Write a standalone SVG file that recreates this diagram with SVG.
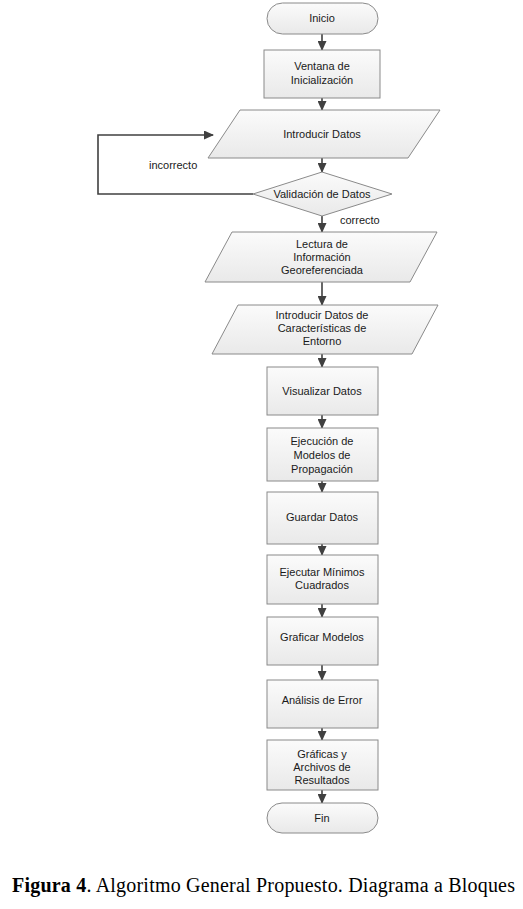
<svg xmlns="http://www.w3.org/2000/svg" width="523" height="909" viewBox="0 0 523 909">
<defs>
<linearGradient id="g" x1="0" y1="0" x2="0" y2="1">
<stop offset="0" stop-color="#fbfbfb"/>
<stop offset="1" stop-color="#e9e9e9"/>
</linearGradient>
<marker id="ah" markerWidth="10" markerHeight="9" refX="9" refY="4.5" orient="auto" markerUnits="userSpaceOnUse">
<path d="M0,0 L10,4.5 L0,9 Z" fill="#404040"/>
</marker>
<style>
.s{fill:url(#g);stroke:#8a8a8a;stroke-width:1}
.t{font-family:"Liberation Sans",Arial,sans-serif;font-size:11px;fill:#1a1a1a;text-anchor:middle}
.l{font-family:"Liberation Sans",Arial,sans-serif;font-size:11px;fill:#1a1a1a}
.c{fill:none;stroke:#404040;stroke-width:1.6}
.cap{font-family:"Liberation Serif","Times New Roman",serif;font-size:20px;fill:#000}
</style>
</defs>
<rect width="523" height="909" fill="#fff"/>
<g id="connectors">
<line class="c" x1="322" y1="34" x2="322" y2="50" marker-end="url(#ah)"/>
<line class="c" x1="322" y1="98" x2="322" y2="110" marker-end="url(#ah)"/>
<line class="c" x1="322" y1="158" x2="322" y2="172" marker-end="url(#ah)"/>
<polyline class="c" points="253,194 98,194 98,135 213,135" marker-end="url(#ah)"/>
<line class="c" x1="322" y1="216" x2="322" y2="232" marker-end="url(#ah)"/>
<line class="c" x1="322" y1="282" x2="322" y2="305" marker-end="url(#ah)"/>
<line class="c" x1="322" y1="354" x2="322" y2="367" marker-end="url(#ah)"/>
<line class="c" x1="322" y1="415" x2="322" y2="428" marker-end="url(#ah)"/>
<line class="c" x1="322" y1="481" x2="322" y2="492" marker-end="url(#ah)"/>
<line class="c" x1="322" y1="544" x2="322" y2="555" marker-end="url(#ah)"/>
<line class="c" x1="322" y1="604" x2="322" y2="617" marker-end="url(#ah)"/>
<line class="c" x1="322" y1="665" x2="322" y2="680" marker-end="url(#ah)"/>
<line class="c" x1="322" y1="728" x2="322" y2="740" marker-end="url(#ah)"/>
<line class="c" x1="322" y1="790" x2="322" y2="803" marker-end="url(#ah)"/>
<text class="l" x="149" y="169">incorrecto</text>
<text class="l" x="340" y="224">correcto</text>
</g>
<g id="inicio">
<rect class="s" x="267" y="3" width="111" height="31" rx="15.5"/>
<text class="t" x="322" y="22">Inicio</text>
</g>
<g id="ventana">
<rect class="s" x="264" y="50" width="116" height="48"/>
<text class="t" x="322" y="70">Ventana de</text>
<text class="t" x="322" y="84">Inicialización</text>
</g>
<g id="introducir">
<polygon class="s" points="240,110 440,110 408,158 208,158"/>
<text class="t" x="322" y="138">Introducir Datos</text>
</g>
<g id="validacion">
<polygon class="s" points="322,172 392,194 322,216 253,194"/>
<text class="t" x="322" y="198">Validación de Datos</text>
</g>
<g id="lectura">
<polygon class="s" points="232,232 437,232 410,282 205,282"/>
<text class="t" x="322" y="248">Lectura de</text>
<text class="t" x="322" y="261">Información</text>
<text class="t" x="322" y="274">Georeferenciada</text>
</g>
<g id="caracteristicas">
<polygon class="s" points="238,305 438,305 412,354 212,354"/>
<text class="t" x="322" y="319">Introducir Datos de</text>
<text class="t" x="322" y="332">Características de</text>
<text class="t" x="322" y="345">Entorno</text>
</g>
<g id="visualizar">
<rect class="s" x="267" y="367" width="111" height="48"/>
<text class="t" x="322" y="395">Visualizar Datos</text>
</g>
<g id="ejecucion">
<rect class="s" x="267" y="428" width="111" height="53"/>
<text class="t" x="322" y="445">Ejecución de</text>
<text class="t" x="322" y="459">Modelos de</text>
<text class="t" x="322" y="473">Propagación</text>
</g>
<g id="guardar">
<rect class="s" x="267" y="492" width="111" height="52"/>
<text class="t" x="322" y="521">Guardar Datos</text>
</g>
<g id="minimos">
<rect class="s" x="267" y="555" width="111" height="49"/>
<text class="t" x="322" y="576">Ejecutar Mínimos</text>
<text class="t" x="322" y="589">Cuadrados</text>
</g>
<g id="graficar">
<rect class="s" x="267" y="617" width="111" height="48"/>
<text class="t" x="322" y="641">Graficar Modelos</text>
</g>
<g id="analisis">
<rect class="s" x="267" y="680" width="111" height="48"/>
<text class="t" x="322" y="704">Análisis de Error</text>
</g>
<g id="graficas">
<rect class="s" x="267" y="740" width="111" height="50"/>
<text class="t" x="322" y="758">Gráficas y</text>
<text class="t" x="322" y="771">Archivos de</text>
<text class="t" x="322" y="784">Resultados</text>
</g>
<g id="fin">
<rect class="s" x="267" y="803" width="111" height="30" rx="15"/>
<text class="t" x="322" y="822">Fin</text>
</g>
<text class="cap" x="12" y="892" textLength="503" lengthAdjust="spacing"><tspan font-weight="bold">Figura 4</tspan>. Algoritmo General Propuesto. Diagrama a Bloques</text>
</svg>
